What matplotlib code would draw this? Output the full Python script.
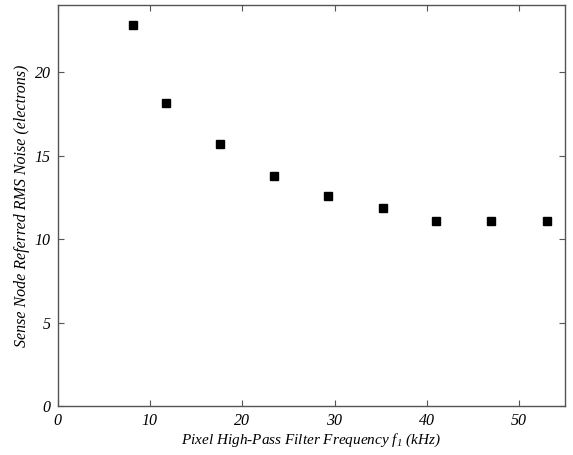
import matplotlib
matplotlib.use('Agg')
import matplotlib.pyplot as plt

freq_khz = [8.2, 11.7, 17.6, 23.4, 29.3, 35.2, 41.0, 47.0, 53.0]
noise_e = [22.8, 18.15, 15.7, 13.75, 12.6, 11.85, 11.05, 11.05, 11.05]

plt.rcParams['font.family'] = 'Liberation Serif'
plt.rcParams['font.style'] = 'italic'
plt.rcParams['mathtext.fontset'] = 'custom'
plt.rcParams['mathtext.it'] = 'Liberation Serif:italic'
plt.rcParams['mathtext.rm'] = 'Liberation Serif:italic'

fig = plt.figure(figsize=(5.73, 4.55), dpi=100)
ax = fig.add_axes([0.1004, 0.1077, 0.8862, 0.8807])

ax.plot(freq_khz, noise_e, linestyle='none', marker='s', markersize=5.8,
        color='black')

ax.set_xlim(0, 55)
ax.set_ylim(0, 24)
ax.set_xticks([0, 10, 20, 30, 40, 50])
ax.set_yticks([0, 5, 10, 15, 20])
ax.tick_params(direction='in', top=True, right=True, length=4, width=0.8,
               color='#555555', labelsize=11.5, pad=5)
for s in ax.spines.values():
    s.set_color('#555555')
    s.set_linewidth(1.0)

ax.set_xlabel(r'Pixel High-Pass Filter Frequency $f_1$ (kHz)', fontsize=11, labelpad=2)
ax.set_ylabel('Sense Node Referred RMS Noise (electrons)', fontsize=11.5, labelpad=3)

fig.savefig('out.png', dpi=100)
